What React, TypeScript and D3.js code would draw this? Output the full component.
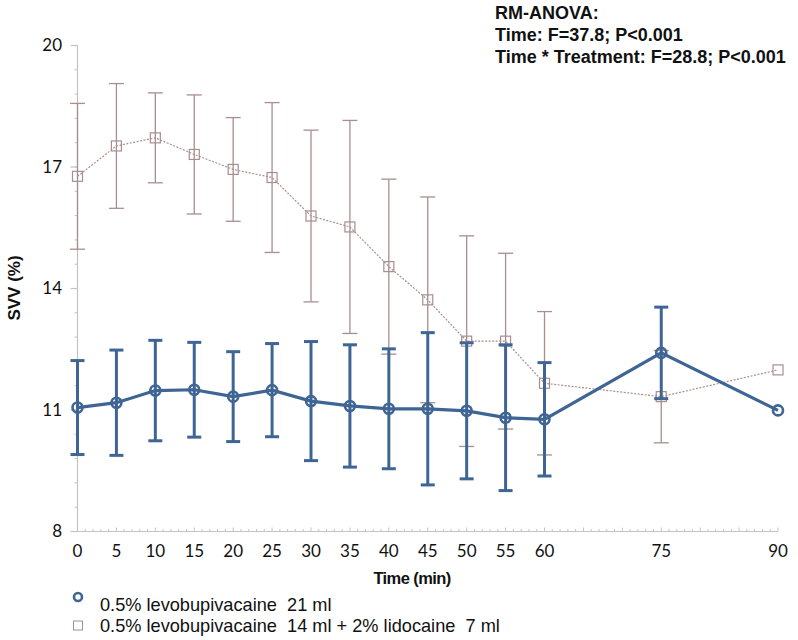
import React from "react";
import * as d3 from "d3";

const times = [0, 5, 10, 15, 20, 25, 30, 35, 40, 45, 50, 55, 60, 75, 90];
const xTickLabels = [0, 5, 10, 15, 20, 25, 30, 35, 40, 45, 50, 55, 60, 75, 90];
const yTicks = [8, 11, 14, 17, 20];

const levoMean = [11.06, 11.18, 11.48, 11.5, 11.33, 11.49, 11.22, 11.1, 11.03, 11.03, 10.98, 10.81, 10.77, 12.41, 10.99];
const levoSD = [1.16, 1.3, 1.24, 1.17, 1.11, 1.15, 1.47, 1.51, 1.48, 1.88, 1.68, 1.8, 1.4, 1.13, 0];

const mixMean = [16.77, 17.52, 17.72, 17.31, 16.94, 16.74, 15.79, 15.52, 14.54, 13.72, 12.7, 12.7, 11.66, 11.33, 11.99];
const mixSD = [1.8, 1.54, 1.11, 1.47, 1.28, 1.85, 2.12, 2.63, 2.16, 2.54, 2.6, 2.17, 1.77, 1.14, 0];

const legendLabels = [
  "0.5% levobupivacaine  21 ml",
  "0.5% levobupivacaine  14 ml + 2% lidocaine  7 ml",
];
const annotation = [
  "RM-ANOVA:",
  "Time: F=37.8; P<0.001",
  "Time * Treatment: F=28.8; P<0.001",
];

const BLUE = "#3e6594";
const PINK = "#a88e8e";
const AXIS = "#c4c4c4";

export default function App() {
  const x = d3.scaleLinear().domain([0, 90]).range([77.5, 778]);
  const y = d3.scaleLinear().domain([8, 20]).range([531.5, 45.5]);

  const minorY = d3.range(8, 20.0001, 0.6);
  const minorX = d3.range(0, 91, 1);

  const line = d3
    .line<number>()
    .x((_, i) => x(times[i]))
    .y((d) => y(d));

  const tickFont = "Lato, 'Liberation Sans', sans-serif";
  const arial = "'Liberation Sans', Arial, sans-serif";

  return (
    <svg width={798} height={640} style={{ position: "absolute", left: 0, top: 0, background: "#fff" }}>
      <rect width={798} height={640} fill="#fff" />
      {/* axes */}
      <line x1={x(0)} x2={x(0)} y1={y(20)} y2={y(8)} stroke={AXIS} strokeWidth={1.2} />
      <line x1={x(0)} x2={x(90)} y1={y(8)} y2={y(8)} stroke={AXIS} strokeWidth={1.2} />
      {minorY.map((v, i) => (
        <line key={"my" + i} x1={x(0) - 3} x2={x(0)} y1={y(v)} y2={y(v)} stroke={AXIS} strokeWidth={1} />
      ))}
      {yTicks.map((v) => (
        <line key={"yt" + v} x1={x(0) - 7} x2={x(0)} y1={y(v)} y2={y(v)} stroke={AXIS} strokeWidth={1.2} />
      ))}
      {minorX.map((v) => (
        <line key={"mx" + v} x1={x(v)} x2={x(v)} y1={y(8)} y2={y(8) - (v % 5 === 0 ? 4 : 2.5)} stroke={AXIS} strokeWidth={1} />
      ))}
      {yTicks.map((v) => (
        <text key={"yl" + v} x={62} y={y(v)} dy="0.35em" textAnchor="end" fontFamily={tickFont} fontSize={17} fill="#111">
          {v}
        </text>
      ))}
      {xTickLabels.map((v) => (
        <text key={"xl" + v} x={x(v)} y={551} dy="0.35em" textAnchor="middle" fontFamily={tickFont} fontSize={17} fill="#111">
          {v}
        </text>
      ))}
      <text x={412} y={584} textAnchor="middle" fontFamily={arial} fontWeight="bold" fontSize={16.5} fill="#111" letterSpacing={-0.6}>
        Time (min)
      </text>
      <text transform={`translate(20,288) rotate(-90)`} textAnchor="middle" fontFamily={arial} fontWeight="bold" fontSize={17} fill="#111">
        SVV (%)
      </text>

      {/* mixture series (pink) */}
      <g>
        {times.map((t, i) =>
          mixSD[i] > 0 ? (
            <g key={"pe" + i} stroke={PINK} strokeWidth={1.3}>
              <line x1={x(t)} x2={x(t)} y1={y(mixMean[i] + mixSD[i])} y2={y(mixMean[i] - mixSD[i])} />
              <line x1={x(t) - 7.5} x2={x(t) + 7.5} y1={y(mixMean[i] + mixSD[i])} y2={y(mixMean[i] + mixSD[i])} />
              <line x1={x(t) - 7.5} x2={x(t) + 7.5} y1={y(mixMean[i] - mixSD[i])} y2={y(mixMean[i] - mixSD[i])} />
            </g>
          ) : null
        )}
        <path d={line(mixMean) || ""} fill="none" stroke={PINK} strokeWidth={1.2} strokeDasharray="2,1.5" />
        {times.map((t, i) => (
          <rect key={"pm" + i} x={x(t) - 5} y={y(mixMean[i]) - 5} width={10} height={10} fill="none" stroke={PINK} strokeWidth={1.2} />
        ))}
      </g>

      {/* levobupivacaine series (blue) */}
      <g>
        {times.map((t, i) =>
          levoSD[i] > 0 ? (
            <g key={"be" + i} stroke={BLUE} strokeWidth={3}>
              <line x1={x(t)} x2={x(t)} y1={y(levoMean[i] + levoSD[i])} y2={y(levoMean[i] - levoSD[i])} />
              <line x1={x(t) - 7} x2={x(t) + 7} y1={y(levoMean[i] + levoSD[i])} y2={y(levoMean[i] + levoSD[i])} />
              <line x1={x(t) - 7} x2={x(t) + 7} y1={y(levoMean[i] - levoSD[i])} y2={y(levoMean[i] - levoSD[i])} />
            </g>
          ) : null
        )}
        <path d={line(levoMean) || ""} fill="none" stroke={BLUE} strokeWidth={3.2} />
        {times.map((t, i) => (
          <circle key={"bm" + i} cx={x(t)} cy={y(levoMean[i])} r={5} fill="none" stroke={BLUE} strokeWidth={2.6} />
        ))}
      </g>

      {/* legend */}
      <circle cx={78} cy={597} r={4} fill="#fff" stroke={BLUE} strokeWidth={2.6} />
      <rect x={73.5} y={621} width={9} height={9} fill="#fff" stroke={PINK} strokeWidth={1} />
      <text x={100} y={611} fontFamily={arial} fontSize={18.2} fill="#111" style={{ whiteSpace: "pre" }}>{legendLabels[0]}</text>
      <text x={100} y={632} fontFamily={arial} fontSize={18.2} fill="#111" style={{ whiteSpace: "pre" }}>{legendLabels[1]}</text>

      {/* annotation */}
      {annotation.map((s, i) => (
        <text key={"an" + i} x={495} y={19 + i * 22} fontFamily={arial} fontWeight="bold" fontSize={18} fill="#111">
          {s}
        </text>
      ))}
    </svg>
  );
}
